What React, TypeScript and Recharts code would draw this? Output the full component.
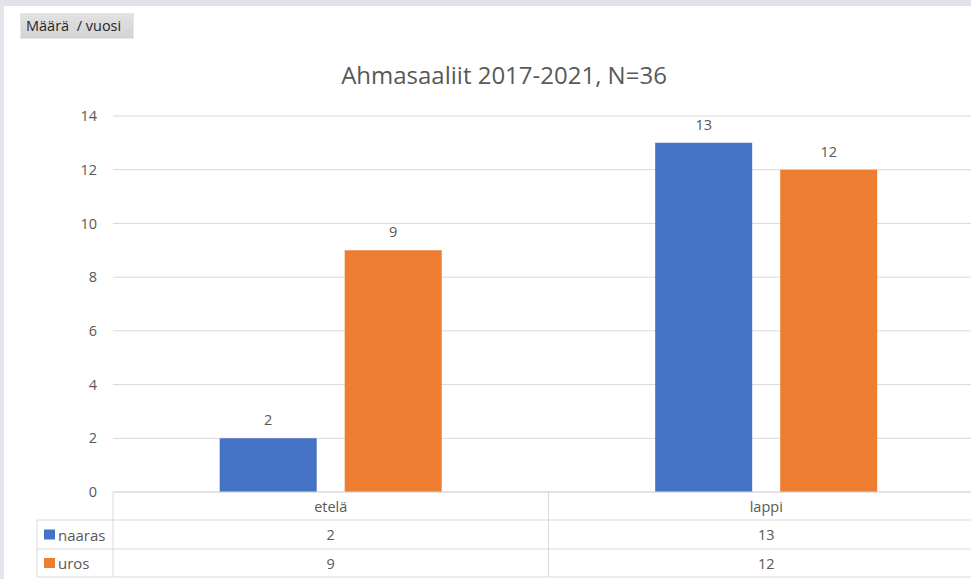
import React from "react";
import { BarChart, Bar, XAxis, YAxis, CartesianGrid, LabelList } from "recharts";

const categories = ["etelä", "lappi"];
const naarasValues = [2, 13];
const urosValues = [9, 12];
const yTicks = [0, 2, 4, 6, 8, 10, 12, 14];
const seriesNames = ["naaras", "uros"];
const seriesColors = ["#4472C4", "#ED7D31"];
const title = "Ahmasaaliit 2017-2021, N=36";
const buttonLabel = "Määrä  / vuosi";

const data = categories.map((c, i) => ({ name: c, naaras: naarasValues[i], uros: urosValues[i] }));
const seriesValues = [naarasValues, urosValues];

const CHART_W = 984;
const CHART_H = 579;
const M_LEFT = 113;
const M_TOP = 116;
const AXIS_H = 87;
const BAND = (CHART_W - M_LEFT) / categories.length;
const ROW1 = 28;
const ROW2 = 29;
const ROW3 = 28;
const LEG_W = 76;
const GRID = "#d9d9d9";
const TXT = "#595959";
const FONT = "'Open Sans', sans-serif";
const FS = 14.5;

const TableTick = (props: any) => {
  const { x, y, payload, index } = props;
  const left = x - BAND / 2;
  const right = x + BAND / 2;
  const y1 = y + ROW1;
  const y2 = y1 + ROW2;
  const y3 = y2 + ROW3;
  return (
    <g>
      <line x1={left} y1={y} x2={left} y2={y3} stroke={GRID} />
      <line x1={right} y1={y} x2={right} y2={y3} stroke={GRID} />
      <line x1={left} y1={y1} x2={right} y2={y1} stroke={GRID} />
      <line x1={left} y1={y2} x2={right} y2={y2} stroke={GRID} />
      <line x1={left} y1={y3} x2={right} y2={y3} stroke={GRID} />
      <text x={x} y={y + ROW1 / 2} textAnchor="middle" dominantBaseline="central" fill={TXT} fontSize={FS} fontFamily={FONT}>
        {payload.value}
      </text>
      {seriesValues.map((vals, si) => (
        <text key={si} x={x} y={(si === 0 ? y1 + ROW2 / 2 : y2 + ROW3 / 2)} textAnchor="middle" dominantBaseline="central" fill={TXT} fontSize={FS} fontFamily={FONT}>
          {vals[payload.index ?? index]}
        </text>
      ))}
      {index === 0 && (
        <g>
          <line x1={left - LEG_W} y1={y1} x2={left} y2={y1} stroke={GRID} />
          <line x1={left - LEG_W} y1={y2} x2={left} y2={y2} stroke={GRID} />
          <line x1={left - LEG_W} y1={y3} x2={left} y2={y3} stroke={GRID} />
          <line x1={left - LEG_W} y1={y1} x2={left - LEG_W} y2={y3} stroke={GRID} />
          {seriesNames.map((n, si) => {
            const cy = si === 0 ? y1 + ROW2 / 2 : y2 + ROW3 / 2;
            return (
              <g key={n}>
                <rect x={left - LEG_W + 7} y={cy - 5} width={11} height={10} fill={seriesColors[si]} />
                <text x={left - LEG_W + 21} y={cy} dominantBaseline="central" fill={TXT} fontSize={15} fontFamily={FONT}>
                  {n}
                </text>
              </g>
            );
          })}
        </g>
      )}
    </g>
  );
};

export default function App() {
  return (
    <div style={{ position: "absolute", left: 0, top: 0, width: 971, height: 579, overflow: "hidden", background: "#ffffff" }}>
      <div style={{ position: "absolute", left: 0, top: 0, width: 971, height: 6, background: "#e3dfeb" }} />
      <div style={{ position: "absolute", left: 0, top: 0, width: 4, height: 579, background: "#e6e3ec" }} />
      <div
        style={{
          position: "absolute",
          left: 20,
          top: 13,
          width: 114,
          height: 26,
          boxSizing: "border-box",
          background: "linear-gradient(#e2e2e2, #d3d3d3)",
          border: "1px solid #e6e6e6",
          fontFamily: FONT,
          fontSize: 14.5,
          color: "#262626",
          lineHeight: "24px",
          paddingLeft: 5,
          whiteSpace: "pre",
          overflow: "hidden",
        }}
      >
        {buttonLabel}
      </div>
      <div
        style={{
          position: "absolute",
          left: 0,
          top: 57,
          width: 1008,
          textAlign: "center",
          fontFamily: FONT,
          fontSize: 24,
          color: TXT,
          lineHeight: "36px",
        }}
      >
        {title}
      </div>
      <div style={{ position: "absolute", left: 0, top: 0 }}>
        <BarChart
          width={CHART_W}
          height={CHART_H}
          data={data}
          margin={{ top: M_TOP, right: 0, bottom: 0, left: 0 }}
          barCategoryGap="24.5%"
          barGap={28}
        >
          <CartesianGrid horizontal vertical={false} stroke={GRID} />
          <XAxis
            dataKey="name"
            height={AXIS_H}
            tickLine={false}
            tickSize={0}
            tickMargin={0}
            axisLine={{ stroke: GRID }}
            tick={<TableTick />}
            interval={0}
          />
          <YAxis
            width={M_LEFT}
            domain={[0, 14]}
            ticks={yTicks}
            axisLine={false}
            tickLine={false}
            tickSize={0}
            tickMargin={16}
            tick={{ fill: TXT, fontSize: FS, fontFamily: FONT }}
          />
          <Bar dataKey="naaras" fill={seriesColors[0]} isAnimationActive={false}>
            <LabelList dataKey="naaras" position="top" offset={13} fill={TXT} fontSize={FS} fontFamily={FONT} />
          </Bar>
          <Bar dataKey="uros" fill={seriesColors[1]} isAnimationActive={false}>
            <LabelList dataKey="uros" position="top" offset={13} fill={TXT} fontSize={FS} fontFamily={FONT} />
          </Bar>
        </BarChart>
      </div>
    </div>
  );
}
